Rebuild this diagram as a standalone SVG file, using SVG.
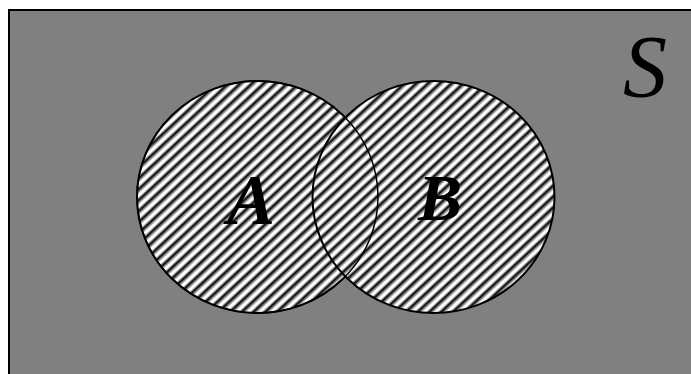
<svg xmlns="http://www.w3.org/2000/svg" width="691" height="374" viewBox="0 0 691 374">
<style>
.ring{fill:url(#hatch);stroke:#000;stroke-width:2}
.lbl{font-family:"Liberation Serif","DejaVu Serif",serif;font-style:italic;font-weight:bold;fill:#000;text-anchor:middle}
</style>
<defs>
<pattern id="hatch" patternUnits="userSpaceOnUse" width="8" height="8" patternTransform="rotate(-43)">
<rect width="8" height="8" fill="#fff"/>
<rect x="0" y="0" width="8" height="2.6" fill="#1a1a1a"/>
<rect x="0" y="2.6" width="8" height="1.1" fill="#8a8a8a"/>
<rect x="0" y="6.9" width="8" height="1.1" fill="#8a8a8a"/>
</pattern>
</defs>
<g id="universe">
<rect x="9" y="10" width="700" height="380" fill="#808080" stroke="#000" stroke-width="2"/>
<text x="645" y="96" font-family="Liberation Serif, serif" font-style="italic" font-size="88" fill="#000" text-anchor="middle">S</text>
</g>
<g id="setA">
<ellipse class="ring" cx="257.5" cy="197" rx="120.5" ry="116"/>
</g>
<g id="setB">
<ellipse class="ring" cx="433.5" cy="197" rx="121" ry="116"/>
</g>
<g id="edges">
<ellipse cx="257.5" cy="197" rx="120.5" ry="116" fill="none" stroke="#000" stroke-width="1.5"/>
</g>
<g id="labels">
<text class="lbl" x="251" y="224" font-size="72">A</text>
<text class="lbl" x="440" y="220" font-size="66">B</text>
</g>
</svg>
